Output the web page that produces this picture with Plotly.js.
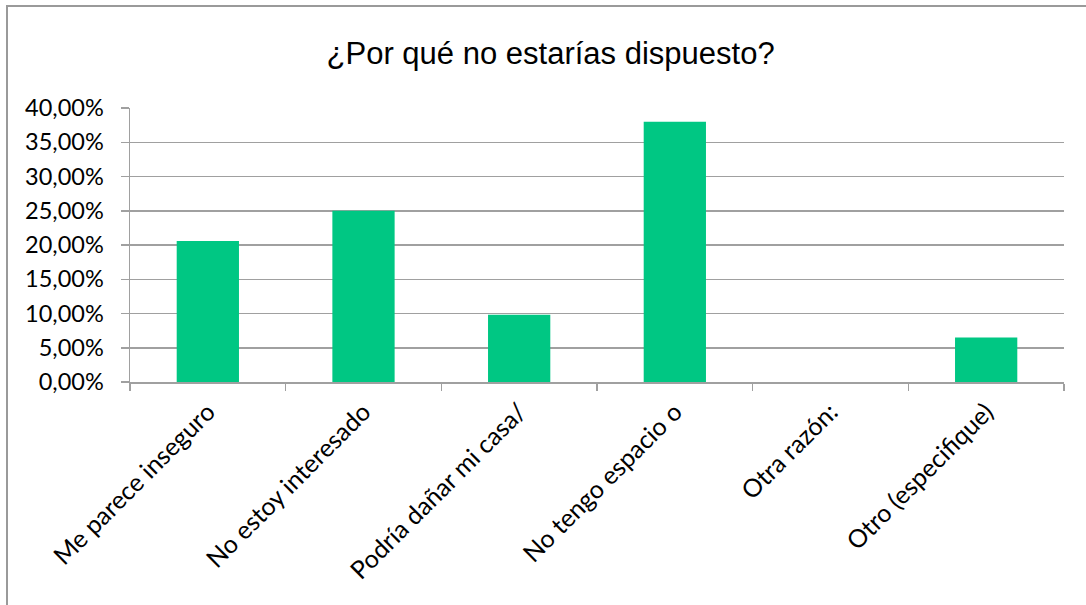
<!DOCTYPE html>
<html>
<head>
<meta charset="utf-8">
<script src="https://cdn.plot.ly/plotly-3.0.1.min.js"></script>
<style>
  html, body { margin: 0; padding: 0; background: #fff; }
  #wrap { position: relative; width: 1086px; height: 605px; overflow: hidden; }
  #chart { position: absolute; left: 0; top: 0; width: 1086px; height: 605px; }
  .bl { position: absolute; left: 6px; top: 5px; width: 2px; height: 600px; background: #9a9a9a; }
  .bt { position: absolute; left: 6px; top: 5px; width: 1080px; height: 2px; background: #9a9a9a; }
</style>
</head>
<body>
<div id="wrap">
  <div id="chart"></div>
  <div class="bl"></div>
  <div class="bt"></div>
</div>
<script>
const categories = [
  "Me parece inseguro",
  "No estoy interesado",
  "Podría dañar mi casa/",
  "No tengo espacio o",
  "Otra razón:",
  "Otro (especifique)"
];
const values = [0.206, 0.25, 0.098, 0.38, 0, 0.065];
const yTicks = [0, 0.05, 0.10, 0.15, 0.20, 0.25, 0.30, 0.35, 0.40];
const titleText = "¿Por qué no estarías dispuesto?";

const trace = {
  type: "bar",
  x: categories,
  y: values,
  marker: { color: "#00c783", line: { width: 0 } },
  hoverinfo: "x+y"
};

const layout = {
  width: 1086,
  height: 605,
  paper_bgcolor: "#ffffff",
  plot_bgcolor: "#ffffff",
  separators: ",.",
  bargap: 0.6,
  showlegend: false,
  margin: { l: 130, r: 22, t: 108, b: 223 },
  title: {
    text: titleText,
    font: { family: "Liberation Sans, Arial, sans-serif", size: 31, color: "#000" },
    x: 0.507, xanchor: "center",
    y: 0.912, yanchor: "middle"
  },
  xaxis: {
    type: "category",
    tickangle: -45,
    ticks: "outside",
    tickson: "boundaries",
    ticklen: 7,
    tickcolor: "#a0a0a0",
    tickwidth: 1.5,
    showline: true,
    linecolor: "#a0a0a0",
    linewidth: 1.5,
    showgrid: false,
    ticklabelstandoff: 4,
    tickfont: { family: "Lato, Carlito, Calibri, sans-serif", size: 25, color: "#000" }
  },
  yaxis: {
    range: [0, 0.4],
    tickvals: yTicks,
    tickformat: ".2%",
    ticks: "outside",
    ticklen: 8,
    tickcolor: "#a0a0a0",
    tickwidth: 1.5,
    showline: true,
    linecolor: "#a0a0a0",
    linewidth: 1.5,
    showgrid: true,
    gridcolor: "#a0a0a0",
    gridwidth: 1.5,
    zeroline: false,
    ticklabelstandoff: 12,
    tickfont: { family: "Lato, Carlito, Calibri, sans-serif", size: 23.5, color: "#000" }
  }
};

Plotly.newPlot("chart", [trace], layout, { displayModeBar: false, staticPlot: true });
</script>
</body>
</html>
